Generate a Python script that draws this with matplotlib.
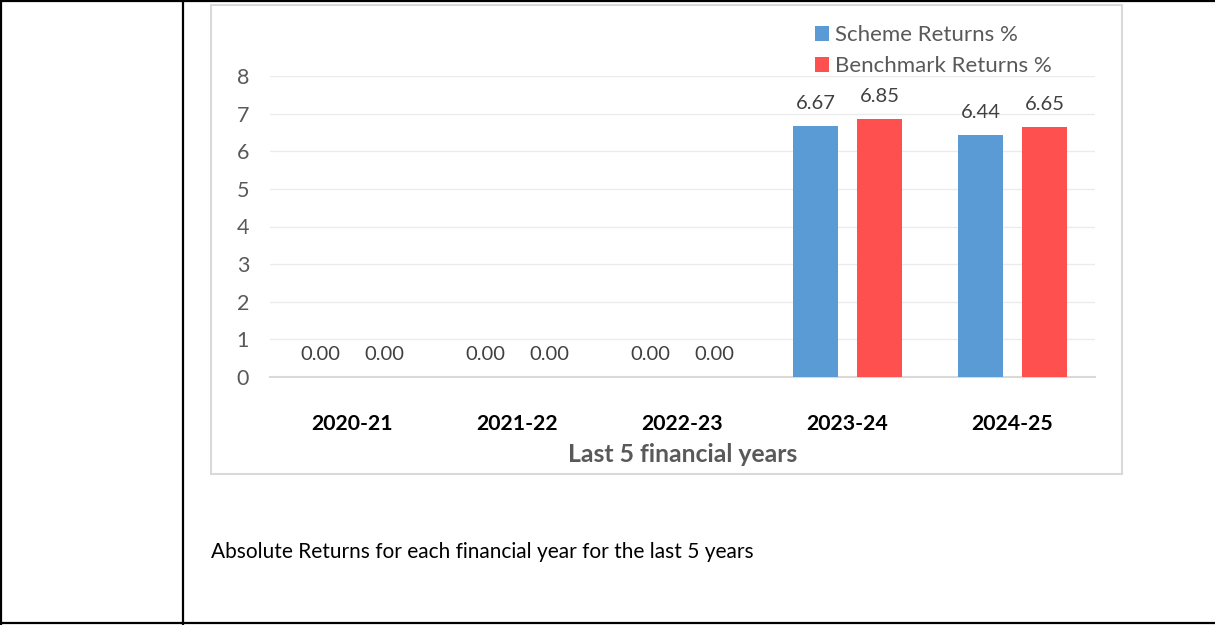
import numpy as np
import matplotlib
matplotlib.use("Agg")
import matplotlib.pyplot as plt
from matplotlib.patches import Rectangle
from matplotlib.lines import Line2D

# ============================
# Data
# ============================
years = ["2020-21", "2021-22", "2022-23", "2023-24", "2024-25"]
scheme_returns = [0.00, 0.00, 0.00, 6.67, 6.44]
benchmark_returns = [0.00, 0.00, 0.00, 6.85, 6.65]
series_names = ["Scheme Returns %", "Benchmark Returns %"]
y_ticks = [0, 1, 2, 3, 4, 5, 6, 7, 8]
x_title = "Last 5 financial years"
caption = "Absolute Returns for each financial year for the last 5 years"

BLUE = "#5B9BD5"
RED = "#FF5050"
GREY_TXT = "#595959"
FONT = "Lato"

W, H = 1215, 625
fig = plt.figure(figsize=(W / 100, H / 100), dpi=100)
plt.rcParams["font.family"] = [FONT, "DejaVu Sans"]


def px(x0, y0, x1, y1):
    # pixel box (top-left origin) -> figure fraction rect
    return [x0 / W, 1 - y1 / H, (x1 - x0) / W, (y1 - y0) / H]


# --- table borders ---
for (xa, ya, xb, yb) in [(0, 1, W, 1), (0, 623, W, 623), (1, 0, 1, H), (183, 0, 183, H)]:
    fig.add_artist(Line2D([xa / W, xb / W], [1 - ya / H, 1 - yb / H],
                          color="black", lw=1.6, transform=fig.transFigure))

# --- chart frame ---
fig.add_artist(Rectangle((211 / W, 1 - 474 / H), (1122 - 211) / W, (474 - 5) / H,
                         transform=fig.transFigure, fill=False,
                         edgecolor="#D9D9D9", lw=1.5))

# --- plot area ---
ax = fig.add_axes(px(270, 76, 1095, 377))
x = np.arange(len(years))
w = 0.276
off = 0.194
b1 = ax.bar(x - off, scheme_returns, w, color=BLUE, label=series_names[0], zorder=3)
b2 = ax.bar(x + off, benchmark_returns, w, color=RED, label=series_names[1], zorder=3)

for bars, vals in [(b1, scheme_returns), (b2, benchmark_returns)]:
    for rect, v in zip(bars, vals):
        ax.annotate(f"{v:.2f}", (rect.get_x() + rect.get_width() / 2, v),
                    xytext=(0, 10), textcoords="offset points",
                    ha="center", va="bottom", fontsize=14.5, color="#404040")

ax.set_xlim(-0.5, len(years) - 0.5)
ax.set_ylim(0, 8)
ax.set_yticks(y_ticks)
ax.yaxis.grid(True, color="#EBEBEB", lw=1, zorder=0)
ax.set_axisbelow(True)
for s in ["top", "right", "left"]:
    ax.spines[s].set_visible(False)
ax.spines["bottom"].set_color("#D9D9D9")
ax.spines["bottom"].set_linewidth(1.5)
ax.tick_params(axis="y", length=0, pad=15, labelsize=15.5, labelcolor=GREY_TXT)
ax.tick_params(axis="x", length=0, pad=27, labelsize=15.3)
ax.set_xticks(x)
ax.set_xticklabels(years, fontweight="bold", color="black")
ax.set_xlabel(x_title, fontsize=17.8, fontweight="bold", color=GREY_TXT, labelpad=6)

leg = ax.legend(loc="lower left", bbox_to_anchor=(815 / W, 1 - 76 / H),
                bbox_transform=fig.transFigure, frameon=False, fontsize=16,
                handlelength=0.65, handleheight=0.65, handletextpad=0.25,
                labelspacing=0.5, borderaxespad=0, borderpad=0)
for t in leg.get_texts():
    t.set_color(GREY_TXT)

fig.text(211 / W, 1 - 552 / H, caption, fontsize=15, color="black",
         va="center", ha="left")

fig.savefig("out.png", dpi=100, facecolor="white")
